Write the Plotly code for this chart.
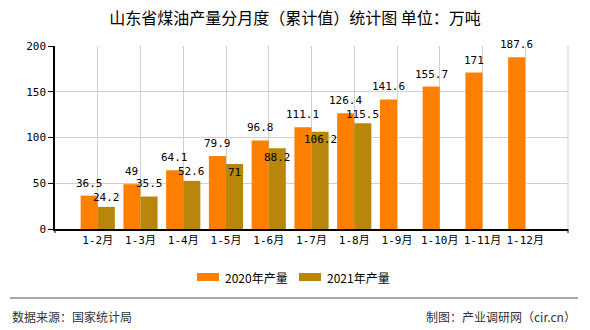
import plotly.graph_objects as go

categories = ["1-2月", "1-3月", "1-4月", "1-5月", "1-6月", "1-7月", "1-8月",
              "1-9月", "1-10月", "1-11月", "1-12月"]
values_2020 = [36.5, 49, 64.1, 79.9, 96.8, 111.1, 126.4, 141.6, 155.7, 171, 187.6]
values_2021 = [24.2, 35.5, 52.6, 71, 88.2, 106.2, 115.5, None, None, None, None]
y_ticks = [0, 50, 100, 150, 200]

# label vertical offsets (px, centre of text relative to bar top) - style only
DY_2020 = 12.5
DY_2021 = [9, 13.5, 9, -8, -9, -8, 9]

ORANGE = "#FF8000"
GOLD = "#B8860B"
MONO = "DejaVu Sans Mono, Noto Sans CJK SC, monospace"
SANS = "Noto Sans CJK SC, Noto Sans, sans-serif"

L, R, T, B = 55, 568, 46, 229
W, H = 590, 330
def px(x):
    return (x - L) / (R - L)
def py(y):
    return (B - y) / (B - T)

fig = go.Figure()
fig.add_trace(go.Bar(x=categories, y=values_2020, name="2020年产量",
                     marker=dict(color=ORANGE, line=dict(width=0)), showlegend=False))
fig.add_trace(go.Bar(x=categories, y=values_2021, name="2021年产量",
                     marker=dict(color=GOLD, line=dict(width=0)), showlegend=False))

ann = []
for i, v in enumerate(values_2020):
    ann.append(dict(x=i - 0.2, y=v, xref="x", yref="y", text=f"{v:g}", showarrow=False,
                    yanchor="middle", xanchor="center", yshift=DY_2020,
                    font=dict(family=MONO, size=11, color="#000")))
for i, v in enumerate(values_2021):
    if v is None:
        continue
    ann.append(dict(x=i + 0.2, y=v, xref="x", yref="y", text=f"{v:g}", showarrow=False,
                    yanchor="middle", xanchor="center", yshift=DY_2021[i],
                    font=dict(family=MONO, size=11, color="#000")))

# legend (custom)
ann.append(dict(x=px(223), y=py(277), xref="paper", yref="paper", text="2020年产量",
                showarrow=False, xanchor="left", yanchor="middle",
                font=dict(family=SANS, size=12, color="#000")))
ann.append(dict(x=px(325), y=py(277), xref="paper", yref="paper", text="2021年产量",
                showarrow=False, xanchor="left", yanchor="middle",
                font=dict(family=SANS, size=12, color="#000")))
# footer
ann.append(dict(x=px(10), y=py(316), xref="paper", yref="paper", text="数据来源：国家统计局",
                showarrow=False, xanchor="left", yanchor="middle",
                font=dict(family=SANS, size=12, color="#333")))
ann.append(dict(x=px(578), y=py(316), xref="paper", yref="paper", text="制图：产业调研网（cir.cn）",
                showarrow=False, xanchor="right", yanchor="middle",
                font=dict(family=SANS, size=12, color="#333")))

shapes = [
    dict(type="rect", xref="paper", yref="paper", x0=px(197), x1=px(219), y0=py(281), y1=py(273),
         fillcolor=ORANGE, line=dict(width=0)),
    dict(type="rect", xref="paper", yref="paper", x0=px(299), x1=px(321), y0=py(281), y1=py(273),
         fillcolor=GOLD, line=dict(width=0)),
    dict(type="line", xref="paper", yref="paper", x0=px(10), x1=px(578), y0=py(298), y1=py(298),
         line=dict(color="#888", width=1.5)),
    dict(type="line", xref="paper", yref="paper", x0=1, x1=1, y0=0, y1=1,
         line=dict(color="#d0d0d0", width=1), layer="below"),
    dict(type="line", xref="paper", yref="paper", x0=0, x1=0, y0=0, y1=py(233),
         line=dict(color="#000", width=1)),
    dict(type="line", xref="paper", yref="paper", x0=1, x1=1, y0=0, y1=py(233),
         line=dict(color="#000", width=1)),
]

fig.update_layout(
    width=W, height=H,
    margin=dict(l=L, r=W - R, t=T, b=H - B),
    paper_bgcolor="white", plot_bgcolor="white",
    barmode="group", bargap=0.2, bargroupgap=0,
    title=dict(text="山东省煤油产量分月度（累计值）统计图 单位：万吨", x=0.5, xanchor="center",
               y=1 - 18 / H, yanchor="middle",
               font=dict(family=SANS, size=16, color="#000")),
    annotations=ann, shapes=shapes,
    xaxis=dict(type="category", range=[-1, len(categories)], showgrid=True, gridcolor="#d0d0d0",
               gridwidth=1, showline=True, linecolor="#000", linewidth=1.5, ticks="",
               tickfont=dict(family=MONO, size=11, color="#000"), fixedrange=True),
    yaxis=dict(range=[0, 200], tickvals=y_ticks, showgrid=True, gridcolor="#d0d0d0", gridwidth=1,
               showline=True, linecolor="#000", linewidth=1.5, ticks="outside", ticklen=5,
               tickcolor="#000", zeroline=False,
               tickfont=dict(family=MONO, size=11, color="#000"), fixedrange=True),
    showlegend=False,
)

fig.write_html("out.html")
